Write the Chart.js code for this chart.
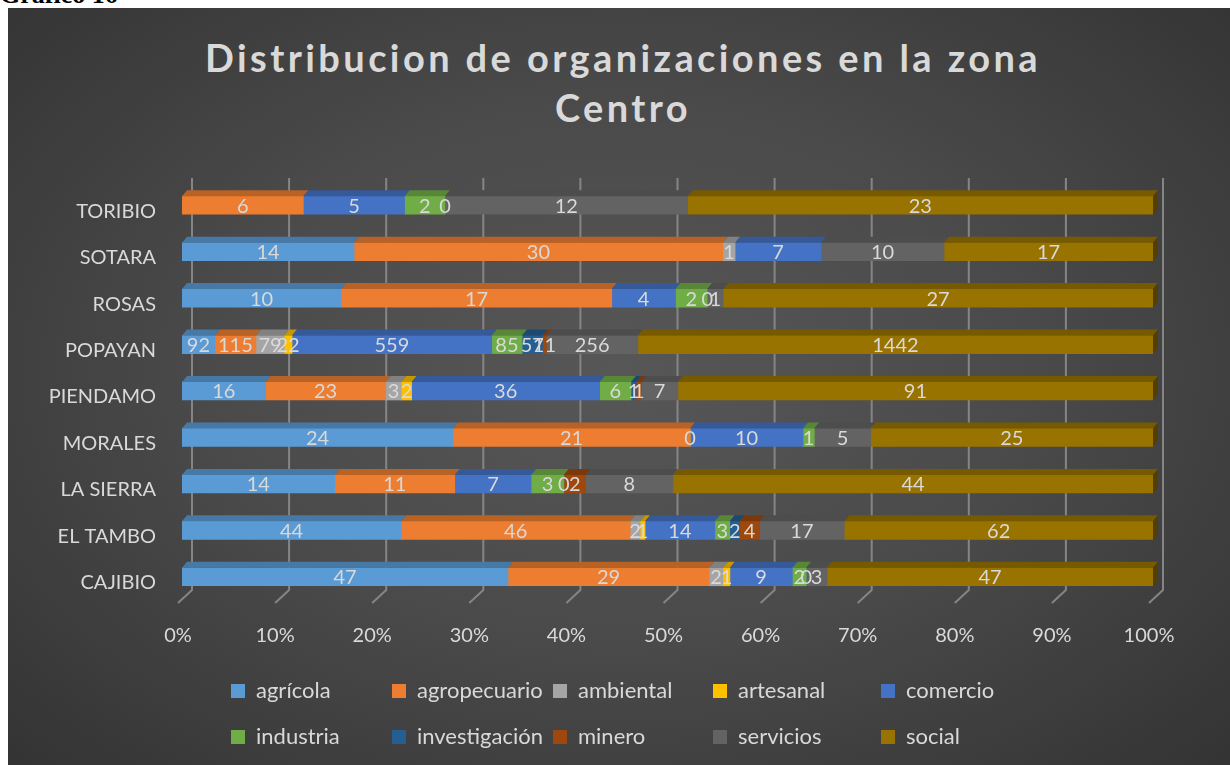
<!DOCTYPE html>
<html>
<head>
<meta charset="utf-8">
<script src="https://cdn.jsdelivr.net/npm/chart.js@4.4.0/dist/chart.umd.min.js"></script>
<style>
  html, body { margin: 0; padding: 0; background: #fff; width: 1230px; height: 765px; overflow: hidden; position: relative; }
  #caption { position: absolute; left: 0; top: -20px; font: bold 26px "Liberation Serif", serif; color: #000; }
  #wrap { position: absolute; left: 8px; top: 8px; width: 1222px; height: 757px;
    background: radial-gradient(ellipse 75% 80% at 50% 48%, #575757 0%, #4a4a4a 45%, #303030 100%); }
  #title { position: absolute; left: 0; top: 24px; width: 1230px; text-align: center;
    font: bold 38px Lato, sans-serif; letter-spacing: 3.4px; line-height: 50px; color: #d9d9d9; }
  canvas { position: absolute; left: 0; top: 0; }
</style>
</head>
<body>
<div id="caption">Gráfico 16</div>
<div id="wrap">
  <div id="title">Distribucion de organizaciones en la zona<br>Centro</div>
  <canvas id="chart" width="1222" height="757"></canvas>
</div>
<script>
const municipios = ['CAJIBIO', 'EL TAMBO', 'LA SIERRA', 'MORALES', 'PIENDAMO', 'POPAYAN', 'ROSAS', 'SOTARA', 'TORIBIO'];
const xTicks = [0, 10, 20, 30, 40, 50, 60, 70, 80, 90, 100];

const agricola      = [47, 44, 14, 24, 16, 92, 10, 14, null];
const agropecuario  = [29, 46, 11, 21, 23, 115, 17, 30, 6];
const ambiental     = [2, 2, null, null, 3, 79, null, 1, null];
const artesanal     = [1, 1, null, 0, 2, 22, null, null, null];
const comercio      = [9, 14, 7, 10, 36, 559, 4, 7, 5];
const industria     = [2, 3, 3, 1, 6, 85, 2, null, 2];
const investigacion = [0, 2, 0, null, 1, 57, 0, null, 0];
const minero        = [null, 4, 2, null, 1, 11, null, null, null];
const servicios     = [3, 17, 8, 5, 7, 256, 1, 10, 12];
const social        = [47, 62, 44, 25, 91, 1442, 27, 17, 23];

const series = [
    { label: 'agrícola', values: agricola, color: '#5b9bd5' },
    { label: 'agropecuario', values: agropecuario, color: '#ed7d31' },
    { label: 'ambiental', values: ambiental, color: '#a5a5a5' },
    { label: 'artesanal', values: artesanal, color: '#ffc000' },
    { label: 'comercio', values: comercio, color: '#4472c4' },
    { label: 'industria', values: industria, color: '#70ad47' },
    { label: 'investigación', values: investigacion, color: '#255e91' },
    { label: 'minero', values: minero, color: '#9e480e' },
    { label: 'servicios', values: servicios, color: '#636363' },
    { label: 'social', values: social, color: '#997300' }
];

// 100% stacked: each row is divided by its total
const totals = municipios.map((m, i) => series.reduce((s, d) => s + (d.values[i] || 0), 0));

function shade(hex, f) {
    const n = parseInt(hex.slice(1), 16);
    const r = Math.round(((n >> 16) & 255) * f), g = Math.round(((n >> 8) & 255) * f), b = Math.round((n & 255) * f);
    return 'rgb(' + r + ',' + g + ',' + b + ')';
}

const textColor = '#d9d9d9';
const legendCols = [223, 384, 545, 705, 873];
const legendRows = [683, 729];

const bar3d = {
    id: 'bar3d',
    beforeDatasetsDraw(chart) {
        const ctx = chart.ctx, x = chart.scales.x, area = chart.chartArea;
        ctx.save();
        ctx.strokeStyle = '#858585';
        ctx.lineWidth = 2;
        xTicks.forEach(v => {
            const px = x.getPixelForValue(v);
            ctx.beginPath();
            ctx.moveTo(px + 10, area.top - 4);
            ctx.lineTo(px + 10, area.bottom - 10);
            ctx.lineTo(px - 4, area.bottom + 3);
            ctx.stroke();
        });
        ctx.restore();
    },
    afterDatasetsDraw(chart) {
        const ctx = chart.ctx;
        const dx = 5, dy = 6;
        const boxes = [];
        chart.data.datasets.forEach((ds, di) => {
            const meta = chart.getDatasetMeta(di);
            meta.data.forEach((el, i) => {
                if (series[di].values[i] === null) return;
                const p = el.getProps(['x', 'y', 'base', 'height'], true);
                boxes.push({ di, i, left: Math.min(p.x, p.base), right: Math.max(p.x, p.base), top: p.y - p.height / 2, bottom: p.y + p.height / 2, y: p.y });
            });
        });
        ctx.save();
        boxes.forEach(b => {
            if (b.right - b.left < 0.5) return;
            const c = series[b.di].color;
            ctx.fillStyle = shade(c, 0.78);
            ctx.beginPath();
            ctx.moveTo(b.left, b.top);
            ctx.lineTo(b.right, b.top);
            ctx.lineTo(b.right + dx, b.top - dy);
            ctx.lineTo(b.left + dx, b.top - dy);
            ctx.closePath();
            ctx.fill();
            if (b.di === series.length - 1) {
                ctx.fillStyle = shade(c, 0.55);
                ctx.beginPath();
                ctx.moveTo(b.right, b.top);
                ctx.lineTo(b.right + dx, b.top - dy);
                ctx.lineTo(b.right + dx, b.bottom - dy);
                ctx.lineTo(b.right, b.bottom);
                ctx.closePath();
                ctx.fill();
            }
        });
        ctx.fillStyle = textColor;
        ctx.font = '20px Lato, sans-serif';
        ctx.textAlign = 'center';
        ctx.textBaseline = 'middle';
        boxes.forEach(b => {
            ctx.fillText(String(series[b.di].values[b.i]), (b.left + b.right) / 2, b.y + 1);
        });
        ctx.restore();
    },
    afterDraw(chart) {
        const ctx = chart.ctx;
        ctx.save();
        ctx.font = '22px Lato, sans-serif';
        ctx.textBaseline = 'middle';
        ctx.textAlign = 'left';
        series.forEach((s, k) => {
            const cx = legendCols[k % 5], cy = legendRows[Math.floor(k / 5)];
            ctx.fillStyle = s.color;
            ctx.fillRect(cx, cy - 7, 14, 14);
            ctx.fillStyle = textColor;
            ctx.fillText(s.label, cx + 25, cy);
        });
        ctx.restore();
    }
};

new Chart(document.getElementById('chart'), {
    type: 'bar',
    data: {
        labels: municipios,
        datasets: series.map(s => ({
            label: s.label,
            data: s.values.map((v, i) => v === null ? null : v / totals[i] * 100),
            backgroundColor: s.color,
            borderWidth: 0,
            barThickness: 18
        }))
    },
    options: {
        indexAxis: 'y',
        responsive: false,
        animation: false,
        layout: { padding: { top: 174, right: 77, bottom: 115, left: 0 } },
        plugins: {
            legend: { display: false },
            title: { display: false },
            tooltip: { enabled: false }
        },
        scales: {
            x: {
                stacked: true,
                min: 0,
                max: 100,
                afterFit: s => { s.height = 50; },
                grid: { display: false },
                border: { display: false },
                ticks: {
                    stepSize: 10,
                    padding: 16,
                    labelOffset: -4,
                    color: textColor,
                    font: { family: 'Lato', size: 20 },
                    callback: v => v + '%'
                }
            },
            y: {
                stacked: true,
                reverse: true,
                afterFit: s => { s.width = 174; },
                grid: { display: false, drawTicks: false },
                border: { display: false },
                ticks: {
                    padding: 26,
                    labelOffset: 6,
                    color: textColor,
                    font: { family: 'Lato', size: 20 }
                }
            }
        }
    },
    plugins: [bar3d]
});
</script>
</body>
</html>
